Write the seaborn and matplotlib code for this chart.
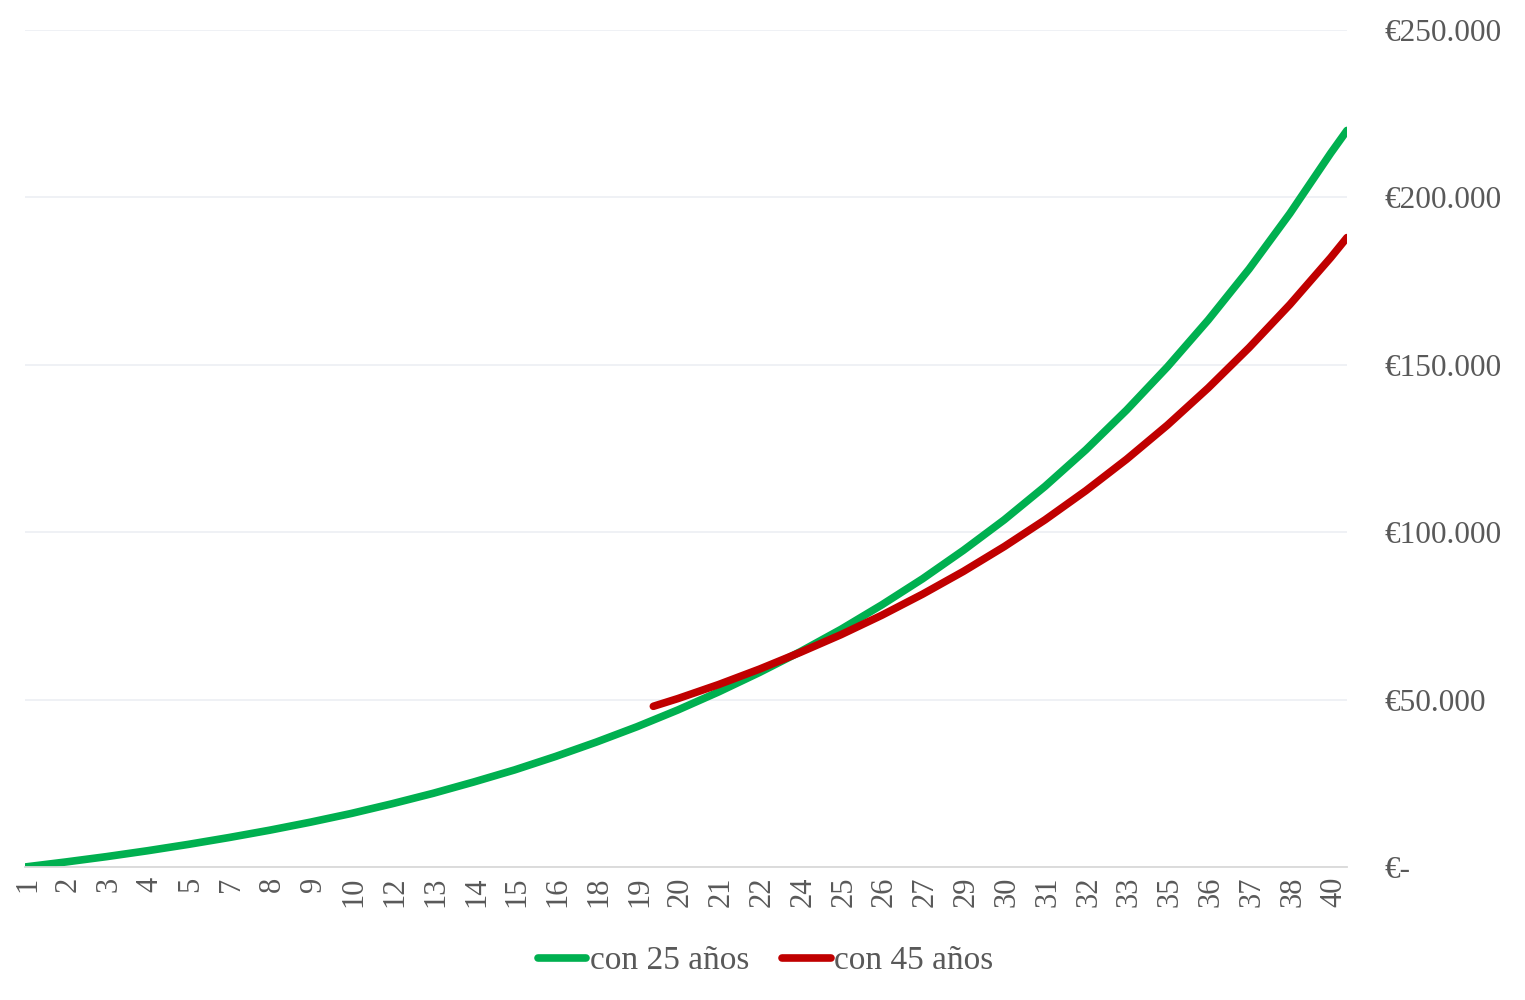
import pandas as pd
import numpy as np
import seaborn as sns
import matplotlib.pyplot as plt
from matplotlib.ticker import FuncFormatter

# meses de ahorro y capital acumulado
meses_25 = [0, 15, 30, 45, 60, 75, 90, 105, 120, 135, 150, 165, 180, 195, 210,
            225, 240, 255, 270, 285, 300, 315, 330, 345, 360, 375, 390, 405,
            420, 435, 450, 465, 480, 486]
valor_25 = [0, 1500, 3100, 4850, 6750, 8800, 11000, 13400, 16000, 18900, 22000,
            25400, 29000, 33000, 37300, 41900, 46900, 52300, 58100, 64300, 71000,
            78300, 86100, 94600, 103700, 113700, 124600, 136500, 149400, 163400,
            178600, 195200, 213200, 220000]

meses_45 = [231, 240, 255, 270, 285, 300, 315, 330, 345, 360, 375, 390, 405,
            420, 435, 450, 465, 480, 486]
valor_45 = [48000, 50300, 54500, 59100, 64100, 69400, 75200, 81500, 88300, 95700,
            103700, 112400, 121800, 132000, 143100, 155100, 168000, 182000, 188000]

etiquetas_x = ['1', '2', '3', '4', '5', '7', '8', '9', '10', '12', '13', '14',
               '15', '16', '18', '19', '20', '21', '22', '24', '25', '26', '27',
               '29', '30', '31', '32', '33', '35', '36', '37', '38', '40']

series = ['con 25 años', 'con 45 años']
colores = {'con 25 años': '#00B050', 'con 45 años': '#C00000'}

df = pd.concat([
    pd.DataFrame({'mes': meses_25, 'valor': valor_25, 'serie': series[0]}),
    pd.DataFrame({'mes': meses_45, 'valor': valor_45, 'serie': series[1]}),
])

sns.set_theme(style='white')
plt.rcParams['font.family'] = ['Liberation Serif', 'DejaVu Serif']
gris = '#595959'

fig = plt.figure(figsize=(15.25, 10), dpi=100)
ax = fig.add_axes([25 / 1525, 133 / 1000, 1322 / 1525, 837 / 1000])

sns.lineplot(data=df, x='mes', y='valor', hue='serie', palette=colores,
             linewidth=5.5, solid_capstyle='round', legend=False, ax=ax)

ax.set_xlim(0, 486)
ax.set_ylim(0, 250000)
ax.set_xlabel('')
ax.set_ylabel('')

ax.set_xticks(np.arange(1, 482, 15))
ax.set_xticklabels(etiquetas_x, rotation=90, fontsize=22, color=gris)
ax.tick_params(axis='x', length=0, pad=7)

ax.set_yticks(np.arange(0, 250001, 50000))
ax.yaxis.tick_right()
ax.yaxis.set_major_formatter(FuncFormatter(
    lambda v, p: '€-' if v == 0 else '€' + f'{int(v):,}'.replace(',', '.')))
ax.tick_params(axis='y', length=0, pad=27, labelsize=22.5, labelcolor=gris)

ax.grid(axis='y', color='#EEF0F5', linewidth=1.3)
ax.grid(axis='x', visible=False)
ax.set_axisbelow(True)
for s in ['top', 'left', 'right']:
    ax.spines[s].set_visible(False)
ax.spines['bottom'].set_color('#D9D9D9')
ax.spines['bottom'].set_linewidth(1.3)

handles = [plt.Line2D([], [], color=colores[s], linewidth=5.5, solid_capstyle='round')
           for s in series]
fig.legend(handles, series, loc='center', bbox_to_anchor=(0.502, 0.039), ncol=2,
           frameon=False, fontsize=24, labelcolor=gris, handlelength=1.45,
           handletextpad=0.1, columnspacing=1.0)

fig.savefig('out.png', dpi=100)
